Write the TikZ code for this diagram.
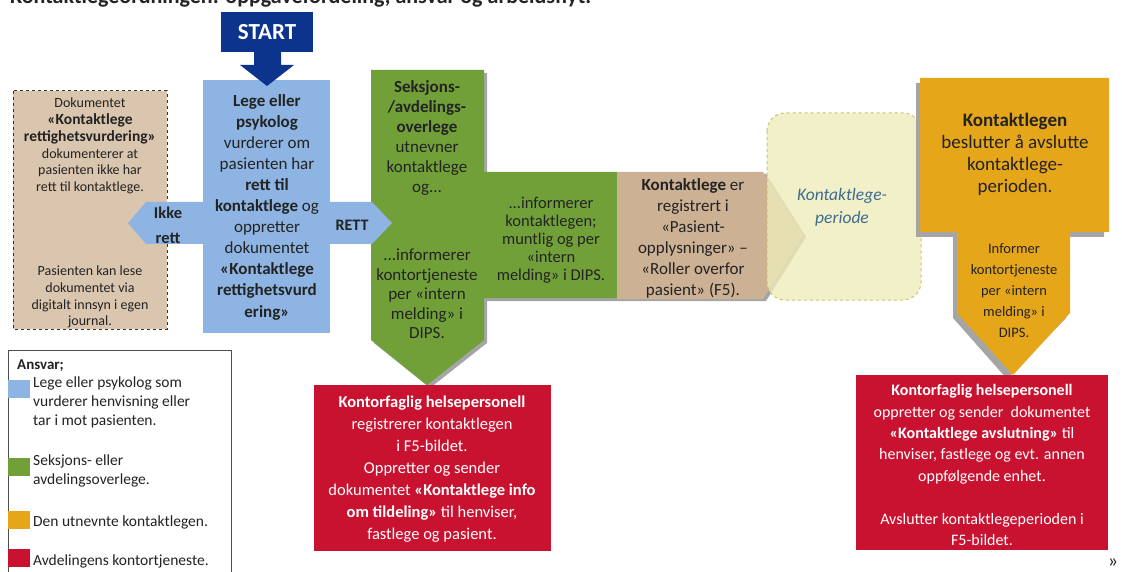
\documentclass[tikz,border=0pt]{standalone}
\usepackage{fontspec}
\setmainfont{Carlito}
\newcommand\myfs[2]{\fontsize{#1}{#2}\selectfont}
\definecolor{txt}{RGB}{35,35,35}
\definecolor{startblue}{RGB}{12,52,140}
\definecolor{lblue}{RGB}{141,180,226}
\definecolor{lgreen}{RGB}{114,160,56}
\definecolor{tanbox}{RGB}{218,197,174}
\definecolor{tanarrow}{RGB}{205,177,148}
\definecolor{lyellow}{RGB}{238,236,186}
\definecolor{yborder}{RGB}{205,195,110}
\definecolor{orangebox}{RGB}{230,166,26}
\definecolor{redbox}{RGB}{200,18,48}
\definecolor{shadowgray}{RGB}{165,165,165}
\definecolor{periodtxt}{RGB}{62,108,142}
\begin{document}
\begin{tikzpicture}[x=1pt,y=-1pt,
  every node/.style={inner sep=0pt, align=center, text=txt},
  shadowfill/.style={fill=shadowgray},
  legsq/.style={fill=#1, minimum width=22pt, minimum height=18pt, anchor=north west}]
\useasboundingbox (0,0) rectangle (1122,572);
\clip (0,0) rectangle (1122,572);

% partly visible title
\node[anchor=base west, font=\bfseries\myfs{22}{24}] (title) at (10,4) {Kontaktlegeordningen: oppgavefordeling, ansvar og arbeidsflyt.};

% left dashed box
\draw[fill=tanbox, draw=black!80, dashed, line width=1pt] (13,91) rectangle (167,329);
\node[font=\myfs{14}{16.7}] (ikketxt1) at (90,146) {Dokumentet\\{\bfseries\myfs{15.5}{16.7}«Kontaktlege}\\{\bfseries\myfs{15.5}{16.7}rettighetsvurdering»}\\dokumenterer at\\pasienten ikke har\\rett til kontaktlege.};
\node[font=\myfs{14}{16.7}] (ikketxt2) at (90,297) {Pasienten kan lese\\dokumentet via\\digitalt innsyn i egen\\journal.};

% green T-shape with shadow
\fill[shadowfill] (374,73) -- (487,73) -- (487,175) -- (620,175) -- (620,301) -- (487,301) -- (487,343) -- (430,388) -- (374,343) -- cycle;
\fill[lgreen] (371,70) -- (484,70) -- (484,172) -- (617,172) -- (617,298) -- (484,298) -- (484,340) -- (427,385) -- (371,340) -- cycle;
\node[font=\myfs{17}{20}] (greentop) at (427,138) {\textbf{Seksjons-}\\\textbf{/avdelings-}\\\textbf{overlege}\\utnevner\\kontaktlege\\og...};
\node[font=\myfs{17}{19.6}] (greenbot) at (427,294) {...informerer\\kontortjeneste\\per «intern\\melding» i\\DIPS.};
\node[font=\myfs{16.5}{18}] (greenarm) at (551,240) {...informerer\\kontaktlegen;\\muntlig og per\\«intern\\melding» i DIPS.};

% tan arrow with shadow
\fill[shadowfill] (620,174) -- (766,174) -- (806,237) -- (766,301) -- (620,301) -- cycle;
\fill[tanarrow] (617,172) -- (763,172) -- (803,235) -- (763,299) -- (617,299) -- cycle;
\node[font=\myfs{17}{21}] (tantxt) at (693,238) {\textbf{Kontaktlege} er\\registrert i\\«Pasient-\\opplysninger» –\\«Roller overfor\\pasient» (F5).};

% yellow period box
\draw[fill=lyellow, fill opacity=0.78, draw=yborder, dashed, line width=1pt, rounded corners=18pt] (767,113) rectangle (921,300);
\node[font=\itshape\myfs{17.5}{23}, text=periodtxt] (period) at (842,207) {Kontaktlege-\\periode};

% orange shape with shadow
\fill[shadowfill] (916,83) -- (1104,83) -- (1104,237) -- (1066,237) -- (1066,318) -- (1007,379) -- (953,318) -- (953,237) -- (916,237) -- cycle;
\fill[orangebox] (920,78) -- (1109,78) -- (1109,232) -- (1070,232) -- (1070,313) -- (1013,375) -- (957,313) -- (957,232) -- (920,232) -- cycle;
\node[font=\myfs{19}{22}] (orangetop) at (1015,154) {\textbf{Kontaktlegen}\\beslutter å avslutte\\kontaktlege-\\perioden.};
\node[font=\myfs{14.5}{21}] (orangebot) at (1014,291) {Informer\\kontortjeneste\\per «intern\\melding» i\\DIPS.};

% red boxes
\fill[redbox] (314,385) rectangle (551,551);
\node[font=\myfs{16.5}{22}, text=white] (red1) at (432,469) {\textbf{Kontorfaglig helsepersonell}\\registrerer kontaktlegen\\i F5-bildet.\\Oppretter og sender\\dokumentet \textbf{«Kontaktlege info}\\\textbf{om tildeling»} til henviser,\\fastlege og pasient.};
\fill[redbox] (856,375) rectangle (1108,550);
\node[font=\myfs{16}{21.4}, text=white] (red2) at (982,465) {\textbf{Kontorfaglig helsepersonell}\\oppretter og sender~ dokumentet\\\textbf{«Kontaktlege avslutning»} til\\henviser, fastlege og evt. annen\\oppfølgende enhet.\\[21.4pt]Avslutter kontaktlegeperioden i\\F5-bildet.};

% blue box and double arrow
\fill[lblue] (128,223) -- (146,202) -- (372,202) -- (392,223) -- (372,244) -- (146,244) -- cycle;
\fill[lblue] (203,80) rectangle (330,333);
\node[font=\myfs{17}{21.1}] (bluetxt) at (267,207) {\textbf{Lege eller}\\\textbf{psykolog}\\vurderer om\\pasienten har\\\textbf{rett til}\\\textbf{kontaktlege} og\\oppretter\\dokumentet\\\textbf{«Kontaktlege}\\\textbf{rettighetsvurd}\\\textbf{ering»}};
\node[font=\bfseries\myfs{16.5}{25}] (ikke) at (168,225) {Ikke\\rett};
\node[font=\bfseries\myfs{16}{18}] (rett) at (352,225) {RETT};

% start
\fill[startblue] (221,12) rectangle (313,52);
\fill[startblue] (254,50) -- (281,50) -- (281,65) -- (294,65) -- (267,86) -- (240,65) -- (254,65) -- cycle;
\node[font=\bfseries\myfs{23}{26}, text=white] (start) at (267,32) {START};

% legend
\draw[draw=black!70, line width=1pt, fill=white] (8,350) rectangle (231,590);
\node[anchor=west, font=\bfseries\myfs{15}{18}] (ansvar) at (17,366) {Ansvar;};
\node[legsq=lblue] (sq1) at (8,380) {};
\node[anchor=north west, align=left, font=\myfs{15.5}{19}] (leg1) at (33,377) {Lege eller psykolog som\\vurderer henvisning eller\\tar i mot pasienten.};
\node[legsq=lgreen] (sq2) at (8,458) {};
\node[anchor=north west, align=left, font=\myfs{15.5}{19}] (leg2) at (33,455) {Seksjons- eller\\avdelingsoverlege.};
\node[legsq=orangebox] (sq3) at (8,511) {};
\node[anchor=west, font=\myfs{15.5}{19}] (leg3) at (33,522) {Den utnevnte kontaktlegen.};
\node[legsq=redbox] (sq4) at (8,549) {};
\node[anchor=west, font=\myfs{15.5}{19}] (leg4) at (33,561) {Avdelingens kontortjeneste.};

\node[font=\myfs{20}{22}] (guil) at (1113,563) {»};
\end{tikzpicture}
\end{document}
